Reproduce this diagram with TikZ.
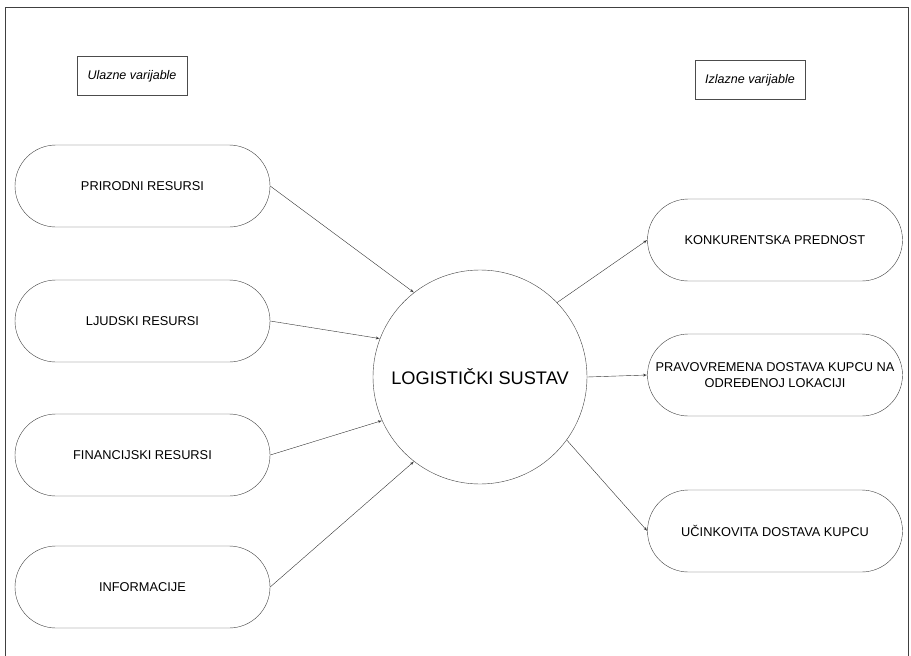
\documentclass[tikz,border=0pt]{standalone}
\usepackage{fontspec}
\setmainfont{Liberation Sans}
\usetikzlibrary{arrows}
\usetikzlibrary{calc}

\tikzset{
  ulaz/.style={draw=black!75, rounded corners=41pt, minimum width=255pt, minimum height=82pt,
    inner sep=0pt, align=center, font=\fontsize{12.8}{16}\selectfont},
  naslov/.style={draw=black!70, minimum width=110pt, minimum height=39pt, inner sep=0pt,
    font=\fontsize{12.5}{14}\selectfont\itshape},
  veza/.style={black!80, thin, -latex'},
}

\begin{document}
\begin{tikzpicture}[x=1pt, y=-1pt]
\useasboundingbox (0,0) rectangle (911,656);
\draw[black!75, thin] (5,656) -- (5,7) -- (908,7) -- (908,656);

\node[naslov] (ulazne) at (132,76) {Ulazne varijable};
\node[naslov] (izlazne) at (750,80) {Izlazne varijable};

\node[draw=black!75, circle, minimum size=214pt, inner sep=0pt,
  font=\fontsize{18.2}{20}\selectfont] (sustav) at (480,377) {LOGISTIČKI SUSTAV};

% ulazne varijable
\node[ulaz] (prirodni) at (142.5,186) {PRIRODNI RESURSI};
\node[ulaz] (ljudski) at (142.5,321) {LJUDSKI RESURSI};
\node[ulaz] (financ) at (142.5,455) {FINANCIJSKI RESURSI};
\node[ulaz] (info) at (142.5,587) {INFORMACIJE};

% izlazne varijable
\node[ulaz] (konk) at (775,240) {KONKURENTSKA PREDNOST};
\node[ulaz] (dostava) at (775,375) {PRAVOVREMENA DOSTAVA KUPCU NA\\ODREĐENOJ LOKACIJI};
\node[ulaz] (ucinak) at (775,531) {UČINKOVITA DOSTAVA KUPCU};

\draw[veza] (prirodni.east) -- (sustav.128);
\draw[veza] (ljudski.east) -- (sustav.159);
\draw[veza] (financ.east) -- (sustav.204);
\draw[veza] (info.east) -- (sustav.232);

\draw[veza] (sustav.44) -- (konk.west);
\draw[veza] (sustav.east) -- (dostava.west);
\draw[veza] (sustav.-36) -- (ucinak.west);
\end{tikzpicture}
\end{document}
